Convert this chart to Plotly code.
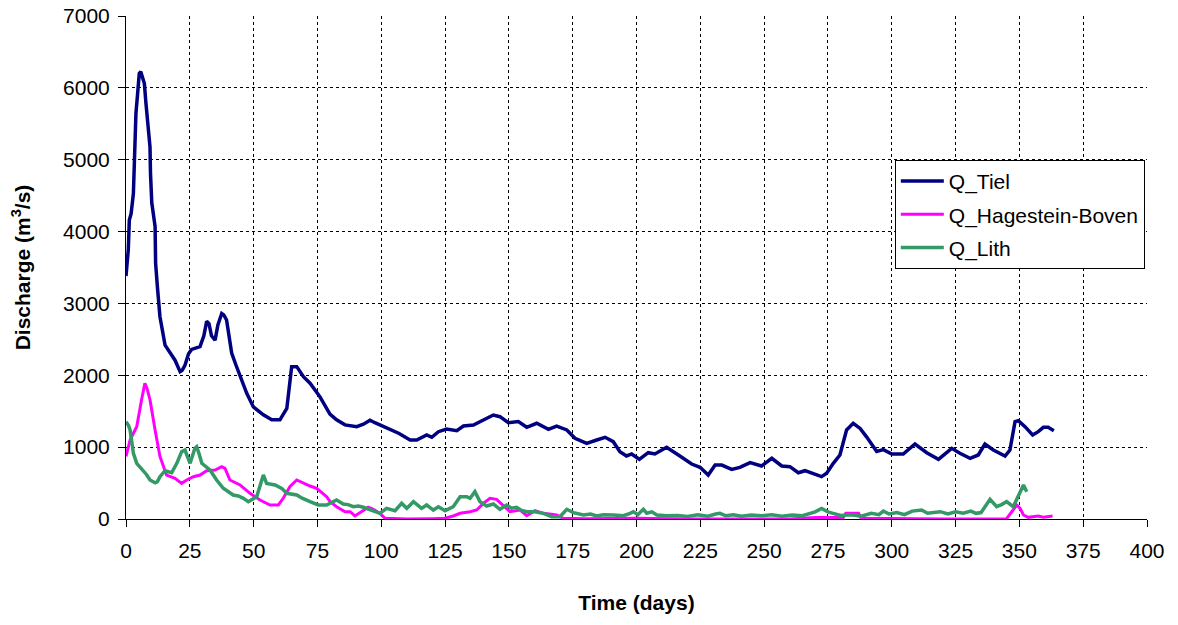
import plotly.graph_objects as go

# Q_Tiel: day, discharge (m3/s)
tiel_day = [0, 0.9, 1.3, 2.0, 2.9, 3.3, 3.9, 4.5, 5.2, 5.8, 6.5, 7.2, 7.8, 9.4, 9.6, 10.1,
            11.4, 11.6, 12.3, 13.3, 15.3, 17, 19.2, 21.2, 22.0, 23.1, 24.5, 25.7, 29, 30.5,
            31.6, 32.5, 33.5, 34.9, 36.0, 37.5, 38.3, 39.4, 40.5, 41.4, 43, 44.7, 47.3, 49.9,
            53.8, 57.1, 60.3, 63, 64.9, 66.9, 69.5, 72.1, 74, 76, 79.9, 82.5, 85.8, 88, 90.4,
            93, 95.6, 97.5, 99.5, 103.4, 107, 111.3, 113.9, 117.8, 119.8, 122.4, 125.6, 129.6,
            132.2, 136.1, 140, 143.9, 146.5, 149.8, 153.7, 157, 160.9, 165.5, 168.7, 172.7,
            175.9, 180.5, 184.4, 187.7, 190.9, 193.5, 196.1, 198.1, 201.1, 204.6, 207.2, 211.8,
            217, 221.6, 224.9, 228.1, 230.8, 233.4, 237.3, 240.5, 244.5, 249, 253, 256.9, 260.1,
            263.4, 266, 269.3, 272.5, 274.5, 277.1, 279.7, 282.3, 284.9, 287.6, 290.2, 294.1,
            296.7, 300, 304.5, 309.1, 313.7, 318.3, 323.5, 326.7, 330.7, 333.9, 336.5, 339.8,
            344.4, 346.3, 348.3, 349.6, 352.2, 355.2, 357.4, 359.4, 361.3, 363.5]
tiel_q = [3380, 3750, 4160, 4250, 4530, 5000, 5650, 5900, 6200, 6225, 6150, 6060, 5790, 5180,
          4810, 4400, 4070, 3560, 3230, 2815, 2420, 2330, 2210, 2050, 2070, 2140, 2300, 2360,
          2400, 2550, 2750, 2720, 2550, 2490, 2700, 2860, 2840, 2770, 2500, 2310, 2150, 1980,
          1750, 1560, 1450, 1380, 1380, 1540, 2120, 2120, 1980, 1890, 1800, 1700, 1460, 1380,
          1310, 1300, 1285, 1320, 1375, 1340, 1308, 1240, 1190, 1100, 1100, 1170, 1137, 1215,
          1252, 1229, 1294, 1308, 1378, 1447, 1424, 1341, 1355, 1276, 1332, 1248, 1294, 1239,
          1123, 1053, 1099, 1137, 1076, 937, 877, 905, 831, 923, 905, 998, 877, 765, 719, 612,
          751, 751, 691, 719, 784, 738, 845, 738, 728, 644, 672, 626, 589, 636, 775, 891, 1239,
          1332, 1260, 1140, 940, 965, 905, 905, 1044, 923, 831, 984, 914, 845, 891, 1044, 960,
          877, 960, 1355, 1368, 1285, 1169, 1215, 1276, 1276, 1229]

# Q_Hagestein-Boven
hag_day = [0, 1.6, 3.0, 4.2, 6.1, 7.4, 8.2, 9.4, 11.4, 13.3, 15.9, 19.2, 21.8, 23.8, 26.4, 29,
           31.6, 34.9, 37.5, 38.8, 40.7, 44.7, 48.6, 52.5, 56.4, 59.7, 61.6, 64.2, 66.9, 69.5,
           72.1, 74.7, 78.6, 80, 82.5, 85.8, 87.8, 89.7, 91.7, 94.9, 96.9, 99.5, 101.5, 105,
           110, 120, 125, 128.2, 130.9, 134.8, 137.4, 140, 142.6, 145.2, 147.2, 148.5, 150.4,
           154.4, 157, 160.2, 163.5, 168.7, 171.3, 180, 200, 220, 240, 260, 270, 277, 281,
           282, 287, 288, 300, 320, 345, 347, 349, 350.3, 351.6, 353.5, 355.5, 357.4, 359.4,
           361.3, 363]
hag_q = [870, 1100, 1200, 1285, 1660, 1890, 1820, 1660, 1240, 870, 610, 566, 496, 543, 589,
         612, 672, 682, 728, 705, 543, 473, 357, 264, 195, 195, 288, 450, 543, 496, 459, 427,
         310, 241, 171, 100, 102, 42, 88, 163, 135, 79, 9, 5, 0, 5, 10, 42, 79, 102, 125, 218,
         288, 274, 209, 171, 102, 125, 46, 116, 79, 56, 9, 5, 10, 0, 5, 0, 20, 15, 20, 80, 80,
         10, 5, 0, 5, 102, 195, 148, 56, 23, 32, 42, 25, 35, 42]

# Q_Lith
lith_day = [0, 1.0, 1.6, 2.9, 4.2, 5.5, 6.8, 8.0, 9.4, 11.4, 12.3, 13.3, 15.3, 17.9, 19.9,
            21.8, 23.1, 24.0, 25.1, 27.0, 27.7, 28.7, 29.7, 32.9, 35.5, 38.1, 42, 44, 46, 47.9,
            49.5, 51.2, 53.2, 53.8, 55.1, 58.4, 61, 63, 66.9, 69, 72.1, 75.3, 78.6, 80, 82.5,
            85.1, 87, 89.1, 91, 93, 95, 96.9, 99.5, 102.1, 105.4, 108, 110, 112.6, 115.8,
            117.8, 120.4, 122.4, 125, 128.2, 130.9, 133.5, 134.8, 136.7, 138.7, 141.3, 143.9,
            146.5, 149.1, 151, 153, 155, 157, 160.2, 163.5, 166.8, 170, 172.7, 175.3, 179.2,
            182, 184.4, 187, 190.9, 194.8, 197.5, 198.8, 200.5, 202.7, 204, 206, 208, 212, 216,
            220, 224, 228, 231, 232.7, 235, 238, 241, 245, 249, 253, 257, 261, 265, 268, 270,
            272.5, 275, 277, 280, 284, 288, 292, 295, 296.7, 299, 302, 305, 308, 311.7, 314,
            317, 319, 322, 325, 328, 331, 333, 335, 338.5, 341.1, 343, 345, 347.6, 349.6,
            351.6, 352.9]
lith_q = [1355, 1300, 1240, 914, 775, 720, 682, 620, 543, 505, 520, 589, 672, 644, 775, 937,
          960, 880, 775, 984, 1006, 900, 775, 682, 543, 427, 334, 320, 288, 241, 280, 310, 543,
          612, 496, 473, 427, 357, 334, 290, 241, 195, 195, 218, 264, 209, 200, 171, 180, 163,
          140, 116, 79, 148, 116, 218, 148, 241, 148, 195, 125, 171, 116, 171, 310, 310, 288,
          380, 241, 181, 209, 135, 195, 150, 163, 120, 102, 102, 79, 32, 32, 135, 88, 56, 70,
          42, 60, 56, 46, 79, 102, 60, 135, 80, 100, 55, 45, 50, 35, 60, 40, 70, 79, 45, 60,
          40, 55, 45, 60, 40, 55, 45, 80, 100, 148, 100, 79, 50, 60, 40, 80, 60, 110, 70, 90,
          60, 110, 125, 80, 90, 102, 70, 100, 80, 110, 79, 90, 274, 171, 200, 241, 171, 334,
          473, 380]

series = [
    ("Q_Tiel", tiel_day, tiel_q, "#000080", 3.5),
    ("Q_Hagestein-Boven", hag_day, hag_q, "#FF00FF", 3),
    ("Q_Lith", lith_day, lith_q, "#339966", 3.5),
]

FONT = "Liberation Sans, Arial, sans-serif"

fig = go.Figure()
for i, (name, xs, ys, color, width) in enumerate(series):
    fig.add_trace(go.Scatter(
        x=xs, y=ys, name=name, mode="lines", legendgroup=f"g{i}",
        line=dict(color=color, width=width, shape="linear"),
    ))

axis_common = dict(
    showline=True, linecolor="black", linewidth=1,
    ticks="outside", ticklen=7, tickcolor="black", tickwidth=1,
    showgrid=True, gridcolor="black", gridwidth=1, griddash="dot",
    zeroline=False, tickfont=dict(family=FONT, size=21, color="black"),
)

fig.update_layout(
    width=1178, height=625,
    margin=dict(l=126, r=31, t=16, b=106, autoexpand=False),
    paper_bgcolor="white", plot_bgcolor="white",
    font=dict(family=FONT, size=21, color="black"),
    xaxis=dict(range=[0, 400], dtick=25, tick0=0, ticklabelstandoff=6,
               title=dict(text="<b>Time (days)</b>", standoff=34,
                          font=dict(family=FONT, size=21)),
               **axis_common),
    yaxis=dict(range=[0, 7000], dtick=1000, tick0=0, ticklabelstandoff=4,
               title=dict(text="<b>Discharge (m<sup>3</sup>/s)</b>", standoff=26,
                          font=dict(family=FONT, size=21)),
               **axis_common),
    legend=dict(x=0.753, y=0.714, xanchor="left", yanchor="top",
                bgcolor="white", bordercolor="black", borderwidth=1,
                font=dict(family=FONT, size=21, color="black"),
                tracegroupgap=3, traceorder="grouped", itemwidth=43),
    showlegend=True,
)

fig.write_html("out.html")
